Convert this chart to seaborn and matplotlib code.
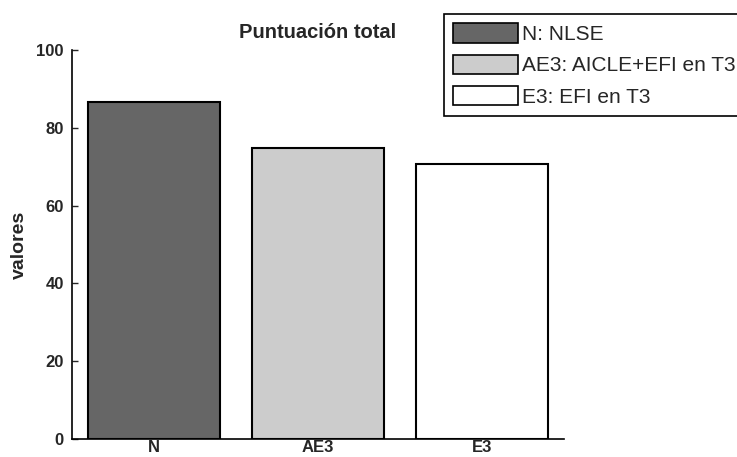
import matplotlib
matplotlib.use("Agg")
import matplotlib.pyplot as plt
from matplotlib.patches import Patch
import seaborn as sns
import pandas as pd

# data
categories = ["N", "AE3", "E3"]
values = [86.6, 74.8, 70.7]
legend_labels = ["N: NLSE", "AE3: AICLE+EFI en T3", "E3: EFI en T3"]
bar_colors = ["#666666", "#cccccc", "#ffffff"]

sns.set_style("white")
plt.rcParams["font.family"] = ["Liberation Sans", "DejaVu Sans"]

df = pd.DataFrame({"grupo": categories, "valor": values, "leyenda": legend_labels})

fig = plt.figure(figsize=(7.37, 4.57), dpi=100)
ax = fig.add_axes([72 / 737, 1 - 439 / 457, 492 / 737, 389 / 457])

sns.barplot(data=df, x="grupo", y="valor", hue="leyenda", palette=bar_colors,
            dodge=False, width=0.8, edgecolor="black", linewidth=1.5, ax=ax, legend=False)

ax.set_xlim(-0.5, 2.5)
ax.set_ylim(0, 100)
ax.set_yticks([0, 20, 40, 60, 80, 100])
ax.set_title("Puntuación total", fontsize=14.5, fontweight="bold", pad=9)
ax.set_ylabel("valores", fontsize=14, fontweight="bold", labelpad=6)
ax.set_xlabel("")
ax.tick_params(axis="y", direction="in", length=4, width=1, labelsize=12, pad=6, left=True)
ax.tick_params(axis="x", length=0, labelsize=12, pad=1)
for lbl in ax.get_xticklabels() + ax.get_yticklabels():
    lbl.set_fontweight("bold")
sns.despine(ax=ax)
for s in ["left", "bottom"]:
    ax.spines[s].set_color("black")
    ax.spines[s].set_linewidth(1.2)

# legend in the top right corner, its frame running into the edge as in the original
handles = [Patch(facecolor=c, edgecolor="black", linewidth=1.2) for c in bar_colors]
leg = fig.legend(handles, legend_labels, loc="upper left",
                 bbox_to_anchor=(444 / 737, 1 - 14 / 457), borderaxespad=0,
                 fontsize=15, handlelength=3.1, handleheight=1.05, handletextpad=0.18,
                 labelspacing=0.5, borderpad=0.45, fancybox=False, framealpha=1)
leg.get_frame().set_edgecolor("black")
leg.get_frame().set_linewidth(1.2)

fig.savefig("out.png", dpi=100)
